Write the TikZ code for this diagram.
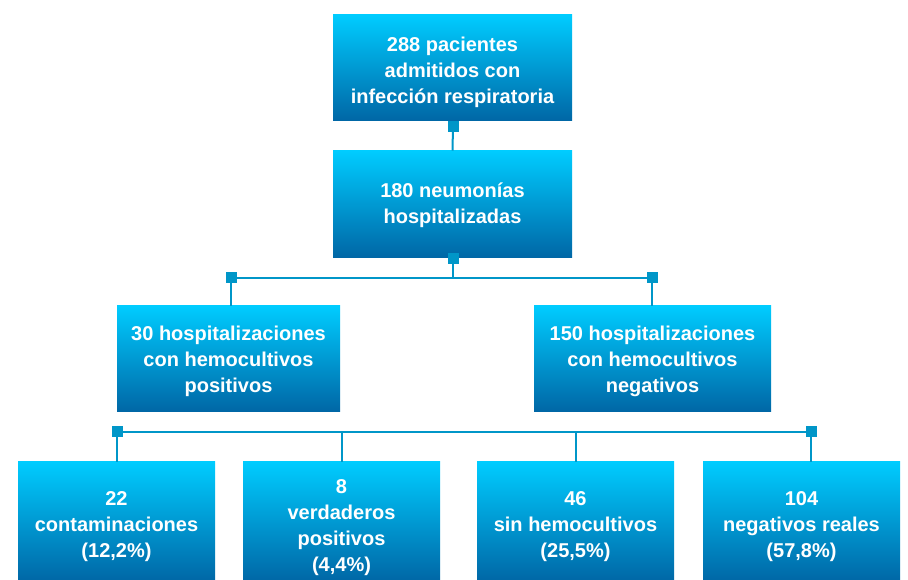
\documentclass[tikz,border=0pt]{standalone}
\usepackage{fontspec}
\setmainfont{Liberation Sans}
\definecolor{boxtop}{RGB}{0,204,255}
\definecolor{boxmid}{RGB}{0,176,230}
\definecolor{boxbot}{RGB}{0,102,165}
\definecolor{linkblue}{RGB}{0,150,200}
\begin{document}
\begin{tikzpicture}[%
      x=0.75pt, y=-0.75pt,
      box/.style={rectangle, inner sep=0pt,
        top color=boxtop, middle color=boxmid, bottom color=boxbot},
      boxtext/.style={align=center, text=white, inner sep=0pt,
        font=\fontsize{15}{19.5}\selectfont\bfseries},
      link/.style={draw=linkblue, line width=1.5pt},
      knot/.style={rectangle, fill=linkblue, minimum size=8.25pt, inner sep=0pt},
      ]
      \useasboundingbox (0,0) rectangle (908,580);
      \clip (0,0) rectangle (908,580);

      % boxes
      \node[box, minimum width=179.25pt, minimum height=79.5pt] (pac) at (452.5,68) {};
      \node[box, minimum width=179.25pt, minimum height=80.25pt] (neu) at (452.5,204.5) {};
      \node[box, minimum width=167.25pt, minimum height=79.5pt] (pos) at (228.5,359) {};
      \node[box, minimum width=177.75pt, minimum height=79.5pt] (neg) at (652.5,359) {};
      \node[box, minimum width=147.75pt, minimum height=90pt] (con) at (116.5,522) {};
      \node[box, minimum width=147.75pt, minimum height=90pt] (ver) at (341.5,522) {};
      \node[box, minimum width=147.75pt, minimum height=90pt] (sin) at (575.5,522) {};
      \node[box, minimum width=147.75pt, minimum height=90pt] (rea) at (801.5,522) {};

      % texts
      \node[boxtext] at ([yshift=-3.5pt]pac.center) {288 pacientes\\admitidos con\\infección respiratoria};
      \node[boxtext] at ([yshift=-0.5pt]neu.center) {180 neumonías\\hospitalizadas};
      \node[boxtext] at ([yshift=-2pt]pos.center) {30 hospitalizaciones\\con hemocultivos\\positivos};
      \node[boxtext] at ([yshift=-2pt]neg.center) {150 hospitalizaciones\\con hemocultivos\\negativos};
      \node[boxtext] at ([yshift=-3.5pt]con.center) {22\\contaminaciones\\(12,2\%)};
      \node[boxtext] at ([yshift=-4.5pt]ver.center) {8\\verdaderos\\positivos\\(4,4\%)};
      \node[boxtext] at ([yshift=-3.5pt]sin.center) {46\\sin hemocultivos\\(25,5\%)};
      \node[boxtext] at ([yshift=-3.5pt]rea.center) {104\\negativos reales\\(57,8\%)};

      % joints
      \node[knot] (k1) at (453,127) {};
      \node[knot] (k2) at (453,258.5) {};
      \node[knot] (kl) at (231,278) {};
      \node[knot] (kr) at (652,278) {};
      \node[knot] (kbl) at (117,432) {};
      \node[knot] (kbr) at (811,432) {};
      \coordinate (j1) at (453,278);

      % connectors
      \draw[link] (pac.south) -- (k1.center) -- (neu.north);
      \draw[link] (k2.center) -- (j1);
      \draw[link] (kl.center) -- (kr.center);
      \draw[link] (kl.center) -- (pos.north -| kl.center);
      \draw[link] (kr.center) -- (neg.north -| kr.center);
      \draw[link] (kbl.center) -- (kbr.center);
      \draw[link] (kbl.center) -- (con.north -| kbl.center);
      \draw[link] (ver.north |- kbl.center) -- (ver.north);
      \draw[link] (sin.north |- kbl.center) -- (sin.north);
      \draw[link] (kbr.center) -- (rea.north -| kbr.center);
\end{tikzpicture}
\end{document}
